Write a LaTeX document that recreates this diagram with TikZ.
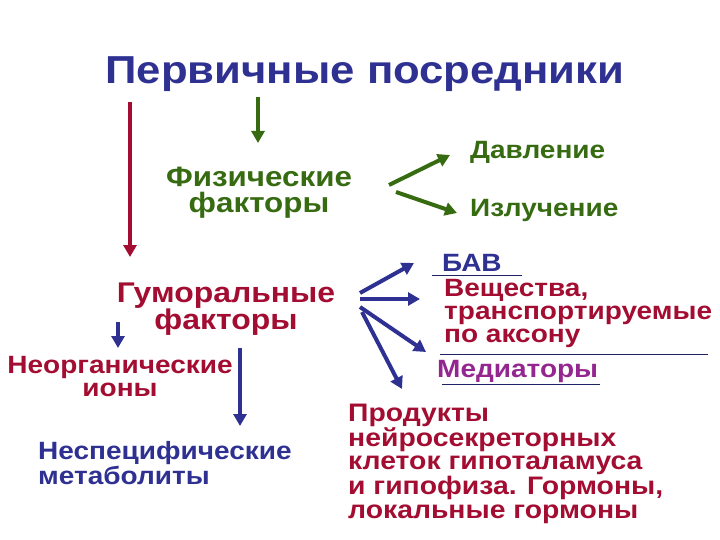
\documentclass[tikz,border=0pt]{standalone}
\usepackage{fontspec}
\setmainfont[FakeStretch=1.12]{Liberation Sans}
\usepackage{tikz}
\usetikzlibrary{arrows.meta}
\definecolor{mednavy}{HTML}{2E3192}
\definecolor{medgreen}{HTML}{376B11}
\definecolor{medcrimson}{HTML}{A30D32}
\definecolor{medpurple}{HTML}{94268F}

\begin{document}
\begin{tikzpicture}[
  x=1pt, y=-1pt,
  lbl/.style={inner sep=0pt, align=center, font=\bfseries\fontsize{#1}{#1}\selectfont},
  lbl/.default=25,
  arr/.style={-{Triangle[width=13pt, length=12pt]}, line width=4pt},
  uline/.style={line width=0.8pt, draw=mednavy!70!black}
]
\useasboundingbox (0,0) rectangle (720,540);

% titles and factors (base = baseline of the last line)
\node[lbl=39, text=mednavy, anchor=base] (title) at (365,84) {Первичные посредники};
\node[lbl, text=medgreen, anchor=base, font=\bfseries\fontsize{28}{26}\selectfont] (phys) at (259,213) {Физические\\ факторы};
\node[lbl, text=medgreen, anchor=base west] (press) at (470,159) {Давление};
\node[lbl, text=medgreen, anchor=base west] (rad) at (470,217) {Излучение};

\node[lbl, text=medcrimson, anchor=base, font=\bfseries\fontsize{28.5}{27}\selectfont] (humor) at (226,329) {Гуморальные\\ факторы};
\node[lbl, text=medcrimson, anchor=base, font=\bfseries\fontsize{25}{23}\selectfont] (inorg) at (120,396) {Неорганические\\ ионы};
\node[lbl, text=mednavy, anchor=base west, align=left, font=\bfseries\fontsize{25}{23}\selectfont] (metab) at (38,484) {Неспецифические\\ метаболиты};

% right column
\node[lbl, text=mednavy, anchor=base west] (bav) at (442,271) {БАВ};
\node[lbl, text=medcrimson, anchor=base west, align=left, font=\bfseries\fontsize{25}{23}\selectfont] (axon) at (444,342) {Вещества,\\ транспортируемые\\ по аксону};
\node[lbl, text=medpurple, anchor=base west] (medi) at (437,377) {Медиаторы};
\node[lbl, text=medcrimson, anchor=base west, align=left, font=\bfseries\fontsize{25.3}{23.5}\selectfont] (prod) at (348,518) {Продукты\\ нейросекреторных\\ клеток гипоталамуса\\ и гипофиза. Гормоны,\\ локальные гормоны};

\draw[uline] (432,275) -- (522,275);
\draw[uline] (440,354) -- (708,354);
\draw[uline] (442,384) -- (600,384);

% arrow ends
\coordinate (g0) at (258,97);   \coordinate (g1) at (258,143);
\coordinate (r0) at (130,102);  \coordinate (r1) at (130,257);
\coordinate (p0) at (389,185);  \coordinate (p1) at (450,155);
\coordinate (q0) at (396,192);  \coordinate (q1) at (457,213);
\coordinate (b0) at (118,322);  \coordinate (b1) at (118,348);
\coordinate (c0) at (240,348);  \coordinate (c1) at (240,426);
\coordinate (f1) at (360,293);  \coordinate (t1) at (414,263);
\coordinate (f2) at (360,299);  \coordinate (t2) at (420,299);
\coordinate (f3) at (360,307);  \coordinate (t3) at (426,352);
\coordinate (f4) at (362,312);  \coordinate (t4) at (402,389);

\draw[arr, medgreen] (g0) -- (g1);
\draw[arr, medcrimson] (r0) -- (r1);
\draw[arr, medgreen] (p0) -- (p1);
\draw[arr, medgreen] (q0) -- (q1);
\draw[arr, mednavy] (b0) -- (b1);
\draw[arr, mednavy] (c0) -- (c1);
\draw[arr, mednavy] (f1) -- (t1);
\draw[arr, mednavy] (f2) -- (t2);
\draw[arr, mednavy] (f3) -- (t3);
\draw[arr, mednavy] (f4) -- (t4);
\end{tikzpicture}
\end{document}
